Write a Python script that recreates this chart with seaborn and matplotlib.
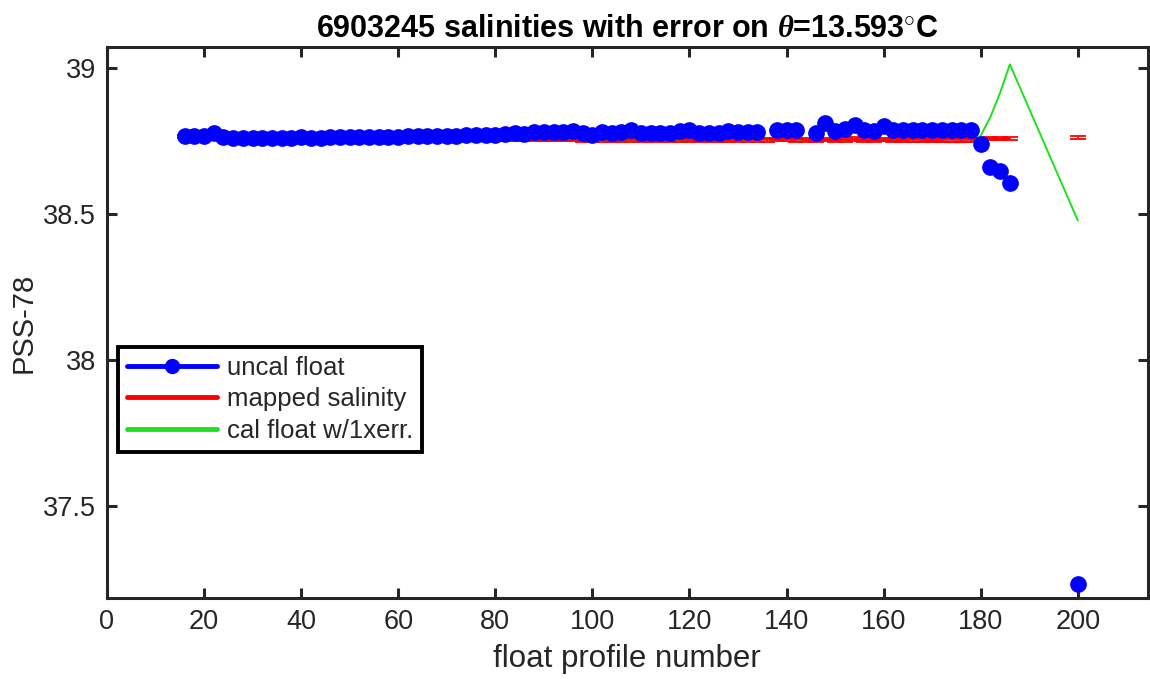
import numpy as np
import pandas as pd
import matplotlib
matplotlib.use("Agg")
import matplotlib.pyplot as plt
import seaborn as sns
from matplotlib.lines import Line2D

nan = np.nan

# float profile numbers
profiles = [16, 18, 20, 22, 24, 26, 28, 30, 32, 34,
            36, 38, 40, 42, 44, 46, 48, 50, 52, 54,
            56, 58, 60, 62, 64, 66, 68, 70, 72, 74,
            76, 78, 80, 82, 84, 86, 88, 90, 92, 94,
            96, 98, 100, 102, 104, 106, 108, 110, 112, 114,
            116, 118, 120, 122, 124, 126, 128, 130, 132, 134,
            136, 138, 140, 142, 144, 146, 148, 150, 152, 154,
            156, 158, 160, 162, 164, 166, 168, 170, 172, 174,
            176, 178, 180, 182, 184, 186, 188, 190, 192, 194,
            196, 198, 200]

# uncalibrated float salinity
uncal_sal = [38.768, 38.768, 38.768, 38.777, 38.764, 38.760, 38.760, 38.761, 38.760, 38.760,
             38.761, 38.760, 38.762, 38.761, 38.760, 38.762, 38.763, 38.763, 38.764, 38.764,
             38.764, 38.765, 38.764, 38.766, 38.766, 38.767, 38.767, 38.768, 38.768, 38.769,
             38.769, 38.770, 38.772, 38.774, 38.777, 38.774, 38.780, 38.782, 38.779, 38.780,
             38.784, 38.778, 38.772, 38.779, 38.778, 38.781, 38.786, 38.776, 38.776, 38.778,
             38.776, 38.785, 38.786, 38.778, 38.776, 38.778, 38.785, 38.779, 38.780, 38.780,
             nan, 38.788, 38.788, 38.786, nan, 38.778, 38.813, 38.785, 38.790, 38.804,
             38.788, 38.784, 38.800, 38.788, 38.787, 38.786, 38.787, 38.786, 38.787, 38.786,
             38.786, 38.788, 38.740, 38.661, 38.647, 38.606, nan, nan, nan, nan,
             nan, nan, 37.233]

# mapped (climatology) salinity and its error
mapped_sal = [38.766, 38.766, 38.765, 38.765, 38.764, 38.763, 38.763, 38.762, 38.762, 38.762,
              38.762, 38.761, 38.761, 38.761, 38.761, 38.760, 38.760, 38.760, 38.760, 38.760,
              38.760, 38.760, 38.760, 38.760, 38.759, 38.759, 38.759, 38.759, 38.759, 38.758,
              38.758, 38.758, 38.757, 38.757, 38.757, 38.756, 38.756, 38.756, 38.755, 38.755,
              38.755, 38.754, 38.754, 38.754, 38.753, 38.753, 38.754, 38.753, 38.752, 38.753,
              38.753, 38.754, 38.753, 38.752, 38.753, 38.754, 38.753, 38.753, 38.754, 38.753,
              38.754, 38.755, 38.756, 38.754, 38.753, 38.752, 38.755, 38.752, 38.754, 38.756,
              38.753, 38.752, 38.755, 38.753, 38.752, 38.754, 38.753, 38.752, 38.753, 38.754,
              38.753, 38.754, 38.756, 38.757, 38.757, 38.757, nan, nan, nan, nan,
              nan, nan, 38.762]

mapped_err = [0.006, 0.006, 0.006, 0.006, 0.006, 0.006, 0.006, 0.006, 0.006, 0.006,
              0.006, 0.006, 0.006, 0.006, 0.006, 0.006, 0.006, 0.006, 0.006, 0.006,
              0.006, 0.006, 0.006, 0.006, 0.006, 0.006, 0.006, 0.006, 0.006, 0.006,
              0.006, 0.006, 0.006, 0.006, 0.006, 0.006, 0.006, 0.006, 0.006, 0.006,
              0.006, 0.006, 0.006, 0.006, 0.006, 0.006, 0.006, 0.006, 0.006, 0.006,
              0.006, 0.006, 0.006, 0.006, 0.006, 0.006, 0.006, 0.006, 0.006, 0.006,
              0.006, 0.006, 0.006, 0.006, 0.006, 0.006, 0.006, 0.006, 0.006, 0.006,
              0.006, 0.006, 0.006, 0.006, 0.006, 0.006, 0.006, 0.006, 0.006, 0.006,
              0.006, 0.006, 0.005, 0.005, 0.005, 0.005, nan, nan, nan, nan,
              nan, nan, 0.005]

# calibrated float salinity with 1x error
cal_sal = [38.765, 38.765, 38.764, 38.764, 38.763, 38.762, 38.762, 38.761, 38.761, 38.761,
           38.761, 38.760, 38.760, 38.760, 38.760, 38.759, 38.759, 38.759, 38.759, 38.759,
           38.759, 38.759, 38.759, 38.759, 38.758, 38.758, 38.758, 38.758, 38.758, 38.757,
           38.757, 38.757, 38.756, 38.756, 38.756, 38.755, 38.755, 38.755, 38.754, 38.754,
           38.754, 38.753, 38.753, 38.753, 38.752, 38.752, 38.753, 38.752, 38.751, 38.752,
           38.752, 38.753, 38.752, 38.751, 38.752, 38.753, 38.752, 38.752, 38.754, 38.756,
           38.758, 38.757, 38.757, 38.756, 38.753, 38.750, 38.752, 38.754, 38.752, 38.755,
           38.752, 38.750, 38.750, 38.748, 38.748, 38.748, 38.748, 38.747, 38.746, 38.745,
           38.745, 38.748, 38.768, 38.832, 38.915, 39.012, nan, nan, nan, nan,
           nan, nan, 38.478]

title = r"6903245 salinities with error on $\theta$=13.593$^{\circ}$C"

sns.set_style("ticks")
plt.rcParams["font.family"] = ["Liberation Sans", "DejaVu Sans"]
plt.rcParams["mathtext.fontset"] = "custom"
plt.rcParams["mathtext.it"] = "Liberation Serif:italic:bold"
plt.rcParams["mathtext.rm"] = "Liberation Sans:bold"

dark = "#262626"

fig = plt.figure(figsize=(11.5, 6.79), dpi=100)
ax = fig.add_axes([0.093, 0.119, 0.905, 0.812])

df = pd.DataFrame({"profile": profiles, "uncal": uncal_sal, "mapped": mapped_sal,
                   "err": mapped_err, "cal": cal_sal})

# green cal line connects across missing profiles
cal_df = df.dropna(subset=["cal"])
sns.lineplot(data=cal_df, x="profile", y="cal", color="#1fe01f", lw=1.4,
             estimator=None, sort=False, ax=ax, zorder=2)

ax.errorbar(df["profile"], df["mapped"], yerr=df["err"], color="red", lw=1.3,
            capsize=6, capthick=1.3, elinewidth=1.1, zorder=3)

# float points (markers only, as in the original)
ax.plot(df["profile"], df["uncal"], color="blue", lw=0, marker="o", ms=11,
        zorder=4)

ax.set_xlim(0, 214.4)
ax.set_ylim(37.185, 39.072)
ax.set_xticks([0, 20, 40, 60, 80, 100, 120, 140, 160, 180, 200])
ax.set_yticks([37.5, 38, 38.5, 39])
ax.set_yticklabels(["37.5", "38", "38.5", "39"])

for s in ax.spines.values():
    s.set_visible(True)
    s.set_linewidth(2.2)
    s.set_color(dark)
ax.tick_params(direction="in", length=7, width=2.2, color=dark, top=True,
               right=True, labelsize=19.5, labelcolor=dark, pad=8)

ax.set_xlabel("float profile number", fontsize=22.5, color=dark, labelpad=6)
ax.set_ylabel("PSS-78", fontsize=21, color=dark, labelpad=4)
ax.set_title(title, fontsize=22, fontweight="bold", color="black", pad=7)

handles = [Line2D([], [], color="blue", lw=3.5, marker="o", ms=10),
           Line2D([], [], color="red", lw=3.5),
           Line2D([], [], color="#1fe01f", lw=3.5)]
leg = ax.legend(handles, ["uncal float", "mapped salinity", "cal float w/1xerr."],
                loc="lower left", bbox_to_anchor=(0.0106, 0.265), borderaxespad=0,
                fontsize=18.5, handlelength=3.5, handletextpad=0.4, labelspacing=0.3,
                borderpad=0.35, fancybox=False, framealpha=1, edgecolor="black")
leg.get_frame().set_linewidth(2.8)

fig.savefig("out.png", dpi=100)
